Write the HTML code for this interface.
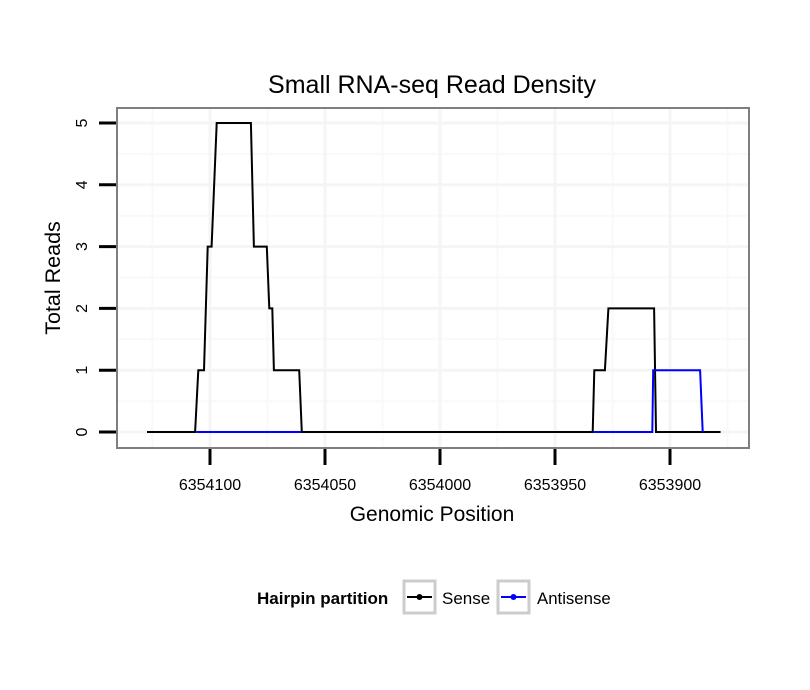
<!DOCTYPE html>
<html><head><meta charset="utf-8"><style>
body{margin:0;background:#fff}
svg{display:block;font-family:"Liberation Sans",sans-serif}
</style></head><body>
<svg id="chart" width="810" height="690" viewBox="0 0 810 690">
<rect width="810" height="690" fill="#fff"/>
<text x="432" y="93" font-size="25" text-anchor="middle">Small RNA-seq Read Density</text>
<g id="grid"></g>
<g id="series"></g>
<rect x="117" y="108" width="632" height="340" fill="none" stroke="#7f7f7f" stroke-width="2"/>
<g id="axes"></g>
<text x="432" y="521" font-size="21" text-anchor="middle">Genomic Position</text>
<text transform="translate(60,278) rotate(-90)" font-size="21.5" text-anchor="middle">Total Reads</text>
<g>
<text x="257" y="604" font-size="17" font-weight="bold">Hairpin partition</text>
<g>
<rect x="404" y="581" width="31" height="32" fill="#fff" stroke="#cccccc" stroke-width="3"/>
<line x1="407" y1="597" x2="432" y2="597" stroke="#000" stroke-width="2"/>
<circle cx="419.5" cy="597" r="3" fill="#000"/>
<text x="442" y="604" font-size="17">Sense</text>
</g>
<g>
<rect x="498" y="581" width="31" height="32" fill="#fff" stroke="#cccccc" stroke-width="3"/>
<line x1="501" y1="597" x2="526" y2="597" stroke="#0000ff" stroke-width="2"/>
<circle cx="513.5" cy="597" r="3" fill="#0000ff"/>
<text x="537" y="604" font-size="16.8">Antisense</text>
</g>
</g>
</svg>
<script>
const xTicks = [6354100, 6354050, 6354000, 6353950, 6353900];
const yTicks = [0, 1, 2, 3, 4, 5];
const sensePos = [6354127.4, 6354106.5, 6354105.1, 6354102.6, 6354101.0, 6354099.3, 6354097.1, 6354082.2, 6354080.9, 6354075.3, 6354074.2, 6354072.9, 6354072.2, 6354061.2, 6354060.1, 6353933.6, 6353932.9, 6353928.3, 6353926.8, 6353906.9, 6353906.1, 6353878.0];
const senseVal = [0, 0, 1, 1, 3, 3, 5, 5, 3, 3, 2, 2, 1, 1, 0, 0, 1, 1, 2, 2, 0, 0];
const antiPos = [6354106.0, 6354060.4, null, 6353933.5, 6353907.7, 6353907.3, 6353886.9, 6353885.8];
const antiVal = [0, 0, null, 0, 0, 1, 1, 0];

const NS = "http://www.w3.org/2000/svg";
const X = v => 210 + (6354100 - v) * 2.3;
const Y = v => 432 - v * 61.8;
function mk(tag, attrs, parent) {
  const e = document.createElementNS(NS, tag);
  for (const k in attrs) e.setAttribute(k, attrs[k]);
  parent.appendChild(e);
  return e;
}
const grid = document.getElementById('grid');
mk('rect', {x:117, y:108, width:632, height:340, fill:'#fff'}, grid);
for (let i = -1; i < xTicks.length; i++) {
  const v = xTicks[0] - (i + 0.5) * 50;
  const x = X(v);
  if (x > 117 && x < 749) {
    const l = mk('line', {x1:x, x2:x, y1:108, y2:448, stroke:'#f9f9f9', 'stroke-width':2}, grid);
    
    
  }
}
for (let i = 0; i < yTicks.length; i++) {
  const y = Y(yTicks[i] + 0.5);
  if (y > 108) {
    const l = mk('line', {x1:117, x2:749, y1:y, y2:y, stroke:'#f9f9f9', 'stroke-width':2}, grid);
    
    
  }
}
const axes = document.getElementById('axes');
xTicks.forEach(v => {
  const x = X(v);
  const g = mk('line', {x1:x, x2:x, y1:108, y2:448, stroke:'#f5f5f5', 'stroke-width':3}, grid);
  
  
  const t = mk('line', {x1:x, x2:x, y1:449, y2:465, stroke:'#000', 'stroke-width':3}, axes);
  
  
  const lb = mk('text', {x:x, y:490, 'font-size':16, 'text-anchor':'middle'}, axes);
  lb.textContent = v;
  
  
});
yTicks.forEach(v => {
  const y = Y(v);
  const g = mk('line', {x1:117, x2:749, y1:y, y2:y, stroke:'#f5f5f5', 'stroke-width':3}, grid);
  
  
  const t = mk('line', {x1:99, x2:116, y1:y, y2:y, stroke:'#000', 'stroke-width':3}, axes);
  
  
  const lb = mk('text', {transform:`translate(87,${y}) rotate(-90)`, 'font-size':16, 'text-anchor':'middle'}, axes);
  lb.textContent = v;
  
  
});
function pathFrom(pos, val) {
  let d = '', pen = false;
  for (let i = 0; i < pos.length; i++) {
    if (pos[i] === null) { pen = false; continue; }
    d += (pen ? 'L' : 'M') + X(pos[i]).toFixed(1) + ',' + Y(val[i]).toFixed(1);
    pen = true;
  }
  return d;
}
const series = document.getElementById('series');
const sp = mk('path', {d:pathFrom(sensePos, senseVal), fill:'none', stroke:'#000', 'stroke-width':2}, series);


const ap = mk('path', {d:pathFrom(antiPos, antiVal), fill:'none', stroke:'#0000ff', 'stroke-width':2}, series);


</script>
</body></html>
